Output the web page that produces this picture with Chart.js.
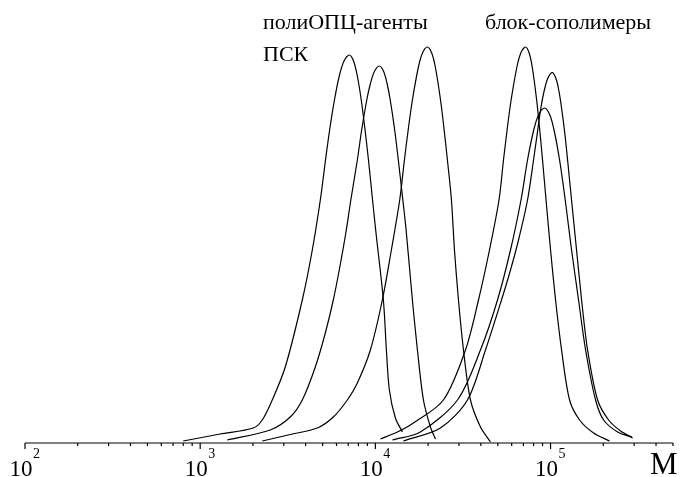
<!DOCTYPE html>
<html lang="ru">
<head>
<meta charset="utf-8">
<title>ММР полиОПЦ-агентов и блок-сополимеров</title>
<script src="https://cdn.jsdelivr.net/npm/chart.js@4.4.1/dist/chart.umd.min.js"></script>
<style>
  html, body { margin: 0; padding: 0; background: #fff; }
  canvas { display: block; }
</style>
</head>
<body>
<canvas id="mwd-chart" width="681" height="477"></canvas>
<script>
// Молекулярная масса (M) и интенсивность сигнала ГПХ для каждой кривой

// полиОПЦ-агенты
const agent1M = [800, 1301, 2009, 2262, 2578, 3060, 3827, 4365, 4850, 5193, 5482, 5839, 6243, 6624, 7102, 7506, 7870, 8307, 8733, 9134, 9638, 10040, 11110, 11560, 12020, 13010, 14270];
const agent1W = [0.5, 2.25, 3.75, 5.75, 10.75, 19, 35.75, 48.25, 60.75, 70.75, 78.25, 85.75, 92, 95.5, 97, 95.5, 92, 85.75, 78.25, 70.75, 60.75, 53.25, 35.75, 23.25, 13.25, 6.25, 2.75];

const agent2M = [1427, 2512, 3268, 3827, 4541, 5180, 5754, 6268, 6782, 7244, 7891, 8351, 8930, 9326, 9842, 10540, 11180, 11710, 12160, 12890, 13520, 14350, 14980, 16270, 17380, 18810, 20620, 22030];
const agent2W = [0.75, 3.25, 6.5, 10.75, 19, 27.5, 35.75, 44, 52.5, 60.75, 70.75, 78.25, 85.75, 89.5, 92.75, 94.25, 92.75, 89.5, 85.75, 78.25, 70.75, 60.75, 53.25, 35.75, 23.25, 10.75, 4, 1];

const agent3M = [2262, 3268, 4663, 5754, 6918, 7891, 9363, 10960, 12340, 13770, 14650, 15390, 16270, 17610, 18580, 19820, 20970, 21990, 23550, 24700, 25780, 27180, 28280, 29810, 31840, 34910, 39810, 45410];
const agent3W = [0.5, 2.125, 3.75, 6.5, 10.75, 15, 23.25, 35.75, 48.25, 60.75, 70.75, 78.25, 85.75, 94, 97.5, 99, 97.5, 94, 85.75, 78.25, 70.75, 60.75, 48.25, 35.75, 23.25, 10.75, 4, 0.25];

// блок-сополимеры
const block1M = [10680, 13360, 16490, 24470, 32680, 38780, 44810, 50780, 53870, 56490, 59550, 64270, 67650, 71970, 75460, 78600, 83300, 86770, 90000, 94250, 100000, 106800, 115600, 128400, 146500, 176100, 217400];
const block1W = [1, 2.75, 5, 10.75, 23.25, 35.75, 48.25, 60.75, 70.75, 78.25, 85.75, 94, 97.5, 99, 97.5, 94, 85.75, 78.25, 70.75, 60.75, 48.25, 35.75, 23.25, 10.75, 5.75, 2.5, 0.5];

const block2M = [14450, 23510, 33540, 42520, 52480, 59070, 65630, 73880, 79960, 83740, 87690, 92180, 96630, 102300, 107100, 111400, 116000, 120900, 125100, 131800, 138900, 150400, 162700, 185600, 214500, 251200, 294200];
const block2W = [0.5, 3.75, 10.75, 23.25, 35.75, 43.25, 50.75, 60.75, 70.75, 77, 83.25, 88.25, 91.25, 92.6, 91.25, 88.25, 83.25, 77, 70.75, 60.75, 50.75, 35.75, 23.25, 10.75, 5.75, 3, 1.25];

const block3M = [12510, 18070, 29420, 39810, 49800, 59070, 67820, 73880, 80170, 85390, 92410, 99080, 104700, 112600, 121300, 131800, 144500, 158500, 180700, 200900, 241500, 290300];
const block3W = [0.75, 2.75, 10.75, 23.25, 35.75, 48.25, 60.75, 70.75, 78.25, 82, 83.75, 82, 78.25, 70.75, 60.75, 48.25, 35.75, 23.25, 10.75, 5.75, 2.75, 1.5];

// Подписи оси
const tickExponents = [2, 3, 4, 5];
const axisMin = 100;
const axisMax = 500000;

const SERIF = '"Liberation Serif", "Times New Roman", serif';

function toPoints(ms, ws) {
  return ms.map((m, i) => ({ x: m, y: ws[i] }));
}

function curve(ms, ws) {
  return {
    data: toPoints(ms, ws),
    showLine: true,
    borderColor: "#000",
    borderWidth: 1.2,
    pointRadius: 0,
    fill: false,
    tension: 0.3,
  };
}

// Ось M с засечками и подписями 10^n, плюс надписи над кривыми
const axisPlugin = {
  id: "logAxis",
  afterDraw(chart) {
    const ctx = chart.ctx;
    const xs = chart.scales.x;
    const y0 = chart.chartArea.bottom;

    ctx.save();
    ctx.strokeStyle = "#000";
    ctx.fillStyle = "#000";
    ctx.lineWidth = 1.2;

    ctx.beginPath();
    ctx.moveTo(xs.getPixelForValue(axisMin), y0);
    ctx.lineTo(xs.getPixelForValue(axisMax), y0);
    ctx.stroke();

    // засечки: большие на декадах, малые на 2..9
    for (let e = 2; e <= 5; e++) {
      for (let k = 1; k <= 9; k++) {
        const v = k * Math.pow(10, e);
        if (v > axisMax) break;
        const px = xs.getPixelForValue(v);
        ctx.beginPath();
        ctx.moveTo(px, y0);
        ctx.lineTo(px, y0 + (k === 1 ? 6 : 3));
        ctx.stroke();
      }
    }

    ctx.textBaseline = "alphabetic";
    tickExponents.forEach((e) => {
      const px = xs.getPixelForValue(Math.pow(10, e));
      ctx.font = "23px " + SERIF;
      ctx.textAlign = "right";
      ctx.fillText("10", px + 7.5, 476);
      ctx.font = "14px " + SERIF;
      ctx.textAlign = "left";
      ctx.fillText(String(e), px + 8, 458);
    });

    ctx.font = "31px " + SERIF;
    ctx.textAlign = "left";
    ctx.fillText("M", 650, 474);

    ctx.font = "22px " + SERIF;
    ctx.fillText("полиОПЦ-агенты", 263, 29);
    ctx.fillText("ПСК", 263, 61);
    ctx.fillText("блок-сополимеры", 485, 29);
    ctx.restore();
  },
};

document.addEventListener("DOMContentLoaded", () => {
  const ctx = document.getElementById("mwd-chart").getContext("2d");
  new Chart(ctx, {
    type: "scatter",
    data: {
      datasets: [
        curve(agent1M, agent1W),
        curve(agent2M, agent2W),
        curve(agent3M, agent3W),
        curve(block1M, block1W),
        curve(block2M, block2W),
        curve(block3M, block3W),
      ],
    },
    options: {
      responsive: false,
      animation: false,
      layout: {
        padding: { left: 25, right: 8, top: 43, bottom: 34 },
      },
      scales: {
        x: { type: "logarithmic", min: axisMin, max: axisMax, display: false },
        y: { min: 0, max: 100, display: false },
      },
      plugins: {
        legend: { display: false },
        tooltip: { enabled: false },
      },
    },
    plugins: [axisPlugin],
  });
});
</script>
</body>
</html>
